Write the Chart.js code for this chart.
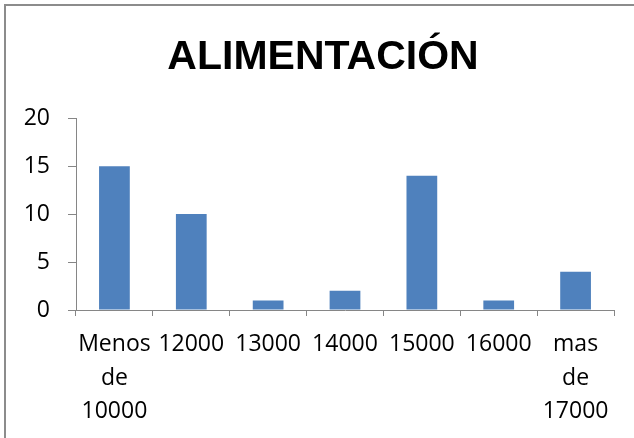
<!DOCTYPE html>
<html>
<head>
<meta charset="utf-8">
<title>Alimentación</title>
<script src="https://cdn.jsdelivr.net/npm/chart.js@4/dist/chart.umd.min.js"></script>
<style>
  html, body { margin: 0; padding: 0; background: #fff; overflow: hidden; }
  #wrap { position: relative; width: 634px; height: 438px; }
  #frame {
    position: absolute; left: 4px; top: 4px; width: 700px; height: 500px;
    border-left: 2px solid #8c8c8c; border-top: 2px solid #8c8c8c;
  }
  canvas { position: absolute; left: 0; top: 0; }
</style>
</head>
<body>
<div id="wrap">
  <div id="frame"></div>
  <canvas id="foodChart" width="634" height="438"></canvas>
</div>
<script>
const categories = [['Menos', 'de', '10000'], '12000', '13000', '14000', '15000', '16000', ['mas', 'de', '17000']];
const counts = [15, 10, 1, 2, 14, 1, 4];
const yTicks = [0, 5, 10, 15, 20];

const axisGray = '#868686';
const labelFont = { family: '"Open Sans", "Liberation Sans", sans-serif', size: 23, lineHeight: 1.45 };

const ctx = document.getElementById('foodChart').getContext('2d');

let chart = new Chart(ctx, {
  type: 'bar',
  data: {
    labels: categories,
    datasets: [{
      label: 'Alimentación',
      data: counts,
      backgroundColor: '#4f81bd',
      borderWidth: 0,
      barPercentage: 0.4,
      categoryPercentage: 1
    }]
  },
  options: {
    responsive: false,
    animation: false,
    layout: { padding: { left: 12, top: 0, right: 0, bottom: 0 } },
    plugins: {
      legend: { display: false },
      tooltip: { enabled: false },
      title: {
        display: true,
        text: 'ALIMENTACIÓN',
        color: '#000',
        font: { family: '"Liberation Sans", Arial, sans-serif', size: 41, weight: 'bold', lineHeight: 1.2 },
        padding: { top: 33, bottom: 36 }
      }
    },
    scales: {
      x: {
        afterFit: (scale) => { scale.height = 128; },
        grid: {
          offset: true,
          drawOnChartArea: false,
          color: axisGray,
          tickLength: 6,
          lineWidth: 1
        },
        border: { color: axisGray, width: 1 },
        ticks: {
          color: '#000',
          font: labelFont,
          padding: 12,
          maxRotation: 0,
          autoSkip: false
        }
      },
      y: {
        min: 0,
        max: 20,
        afterFit: (scale) => { scale.width = 64; },
        afterBuildTicks: (scale) => { scale.ticks = yTicks.map(v => ({ value: v })); },
        grid: {
          drawOnChartArea: false,
          color: axisGray,
          tickLength: 8
        },
        border: { color: axisGray, width: 1 },
        ticks: {
          color: '#000',
          font: labelFont,
          padding: 18
        }
      },
      // empty right-hand gutter so the plot ends short of the edge
      gutter: {
        position: 'right',
        afterFit: (scale) => { scale.width = 20; },
        grid: { display: false },
        border: { display: false },
        ticks: { display: false }
      }
    }
  }
});
</script>
</body>
</html>
